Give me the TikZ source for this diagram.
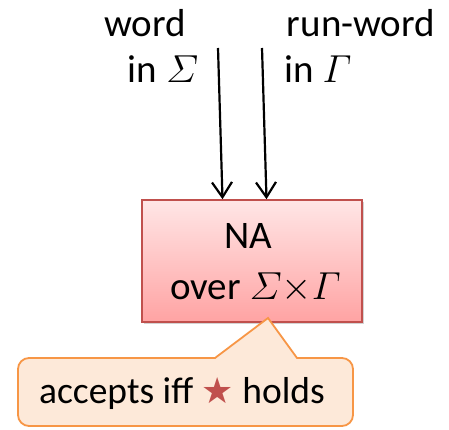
\documentclass[tikz,border=0pt]{standalone}
\usepackage{fix-cm}
\usepackage{amsmath}
\usepackage[no-math]{fontspec}
\setmainfont{Carlito}
\newfontfamily\symfont{DejaVu Sans}
\usetikzlibrary{arrows.meta,shadows}
\definecolor{naborder}{HTML}{C0504D}
\definecolor{natop}{HTML}{FFE6E6}
\definecolor{nabottom}{HTML}{FFA3A3}
\definecolor{calloutfill}{HTML}{FDE9D9}
\definecolor{calloutborder}{HTML}{F79646}
\definecolor{starred}{HTML}{C0504D}
\tikzset{
  lbl/.style={inner sep=0pt, font=\fontsize{39}{46}\selectfont},
  inarrow/.style={line width=2.2pt, -{Straight Barb[length=15pt,width=20pt,line width=2.2pt]}},
  nabox/.style={draw=naborder, line width=1.6pt, top color=natop, bottom color=nabottom,
    minimum width=220pt, minimum height=122pt, inner sep=0pt,
    drop shadow={shadow xshift=2pt, shadow yshift=-2pt, opacity=0.35}},
  callout/.style={draw=calloutborder, fill=calloutfill, line width=1.8pt}
}
\begin{document}
\begin{tikzpicture}[x=1pt,y=-1pt]
  \useasboundingbox (0,0) rectangle (449,430);
  % input labels
  \node[lbl, anchor=base] (w1) at (145,37) {word};
  \node[lbl, anchor=base] (w2) at (163,83) {in $\varSigma$};
  \node[lbl, anchor=base] (r1) at (361,37) {run-word};
  \node[lbl, anchor=base] (r2) at (318,83) {in $\varGamma$};
  % automaton box
  \node[nabox] (na) at (252,261) {};
  \node[lbl, anchor=base] (t1) at (248,248) {NA};
  \node[lbl, anchor=base] (t2) at (255.5,299) {over $\varSigma{\times}\varGamma$};
  % input arrows
  \coordinate (a1) at (218,48);
  \coordinate (a2) at (262,48);
  \draw[inarrow] (a1) -- (na.north -| 222.5,0);
  \draw[inarrow] (a2) -- (na.north -| 266.5,0);
  % callout with pointer
  \coordinate (tip) at (268,318);
  \draw[callout] (215,358) -- (tip) -- (297,358)
    [rounded corners=11pt] -- (353,358) -- (353,426) -- (18,426) -- (18,358)
    [sharp corners] -- cycle;
  \node[lbl, anchor=base, font=\fontsize{37.5}{44}\selectfont] (acc) at (182,403)
    {accepts iff {\color{starred}\symfont\fontsize{36}{42}\selectfont ★} holds};
\end{tikzpicture}
\end{document}
